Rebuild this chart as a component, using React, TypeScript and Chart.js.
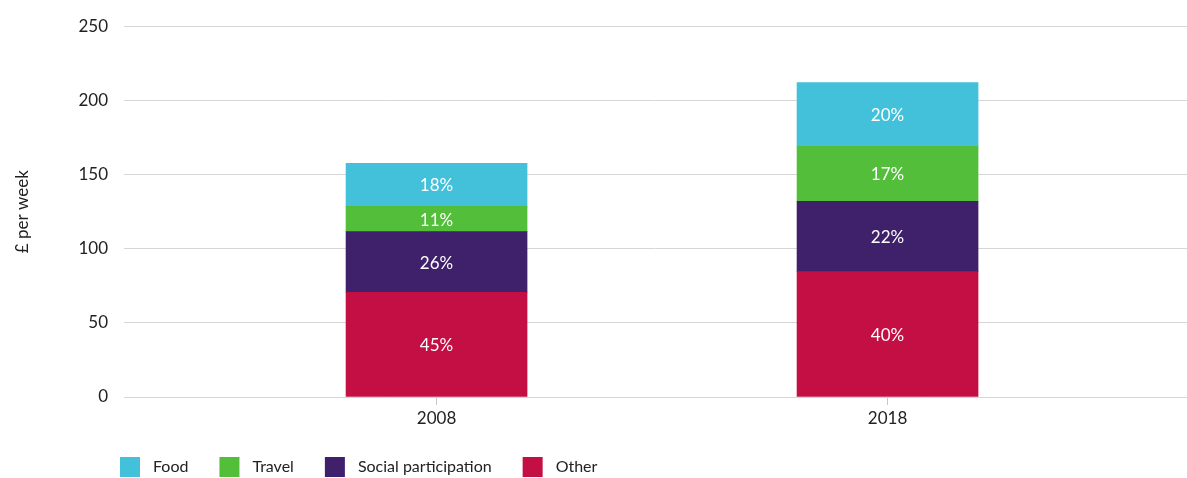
import React, { useEffect, useRef } from "react";
import { Chart, registerables } from "chart.js";

Chart.register(...registerables);

const years = [2008, 2018];
const seriesNames = ["Other", "Social participation", "Travel", "Food"];
const otherValues = [70.5, 84.5];
const socialValues = [41, 47.5];
const travelValues = [17, 37];
const foodValues = [29, 43];
const seriesColors = ["#C30F43", "#3F216B", "#52BE39", "#43C0DA"];
const yTicks = [0, 50, 100, 150, 200, 250];
const yTitle = "£ per week";

const FONT = "Lato";

const labelPlugin = {
  id: "segLabels",
  afterDatasetsDraw(chart: any) {
    const ctx = chart.ctx;
    const ds = chart.data.datasets;
    const totals = years.map((_, i) => ds.reduce((s: number, d: any) => s + d.data[i].y, 0));
    ctx.save();
    ctx.fillStyle = "#ffffff";
    ctx.font = `17px ${FONT}`;
    ctx.textAlign = "center";
    ctx.textBaseline = "middle";
    ds.forEach((d: any, di: number) => {
      const meta = chart.getDatasetMeta(di);
      meta.data.forEach((bar: any, i: number) => {
        const pct = Math.round((d.data[i].y / totals[i]) * 100);
        const mid = (bar.y + bar.base) / 2;
        ctx.fillText(pct + "%", bar.x, mid + 1);
      });
    });
    ctx.restore();
  },
};

const legendPlugin = {
  id: "customLegend",
  afterDraw(chart: any) {
    const ctx = chart.ctx;
    const ds = chart.data.datasets.slice().reverse();
    ctx.save();
    ctx.font = `16px ${FONT}`;
    ctx.textBaseline = "middle";
    ctx.textAlign = "left";
    let x = 120;
    const y = 457;
    ds.forEach((d: any) => {
      ctx.fillStyle = d.backgroundColor;
      ctx.fillRect(x, y, 20, 20);
      x += 33;
      ctx.fillStyle = "#222222";
      ctx.fillText(d.label, x, y + 10);
      x += ctx.measureText(d.label).width + 31;
    });
    ctx.restore();
  },
};

export default function App() {
  const ref = useRef<HTMLCanvasElement>(null);
  useEffect(() => {
    document.body.style.margin = "0";
    const valueSets = [otherValues, socialValues, travelValues, foodValues];
    const chart = new Chart(ref.current!, {
      type: "bar",
      data: {
        datasets: seriesNames.map((name, si) => ({
          label: name,
          data: years.map((yr, i) => ({ x: yr, y: valueSets[si][i] })),
          backgroundColor: seriesColors[si],
          borderWidth: 0,
          barThickness: 181,
        })),
      },
      options: {
        animation: false,
        responsive: false,
        layout: { padding: { top: 24, left: 0, right: 0, bottom: 0 } },
        plugins: { legend: { display: false }, tooltip: { enabled: false } },
        scales: {
          x: {
            type: "linear",
            stacked: true,
            offset: false,
            min: 2001.07,
            max: 2024.64,
            afterBuildTicks: (scale: any) => {
              scale.ticks = years.map((v) => ({ value: v }));
            },
            afterFit: (scale: any) => {
              scale.height = 81;
            },
            ticks: {
              callback: (v: any) => String(v),
              color: "#222222",
              font: { family: FONT, size: 17 },
              padding: 3,
            },
            grid: {
              offset: false,
              drawOnChartArea: false,
              drawTicks: true,
              tickLength: 8,
              color: "#c8c8c8",
            },
            border: { display: false },
          },
          y: {
            stacked: true,
            min: 0,
            max: 250,
            afterBuildTicks: (scale: any) => {
              scale.ticks = yTicks.map((v) => ({ value: v }));
            },
            afterFit: (scale: any) => {
              scale.width = 124;
            },
            ticks: {
              color: "#222222",
              font: { family: FONT, size: 17 },
              padding: 16,
            },
            grid: { color: "#d6d6d6", drawTicks: false, lineWidth: 1 },
            border: { display: false },
            title: {
              display: true,
              text: yTitle,
              color: "#222222",
              font: { family: FONT, size: 17 },
              padding: { top: 12, bottom: 0 },
            },
          },
        },
      },
      plugins: [labelPlugin, legendPlugin],
    } as any);
    return () => chart.destroy();
  }, []);
  return (
    <div style={{ width: 1187, height: 478 }}>
      <canvas ref={ref} width={1187} height={478} />
    </div>
  );
}
